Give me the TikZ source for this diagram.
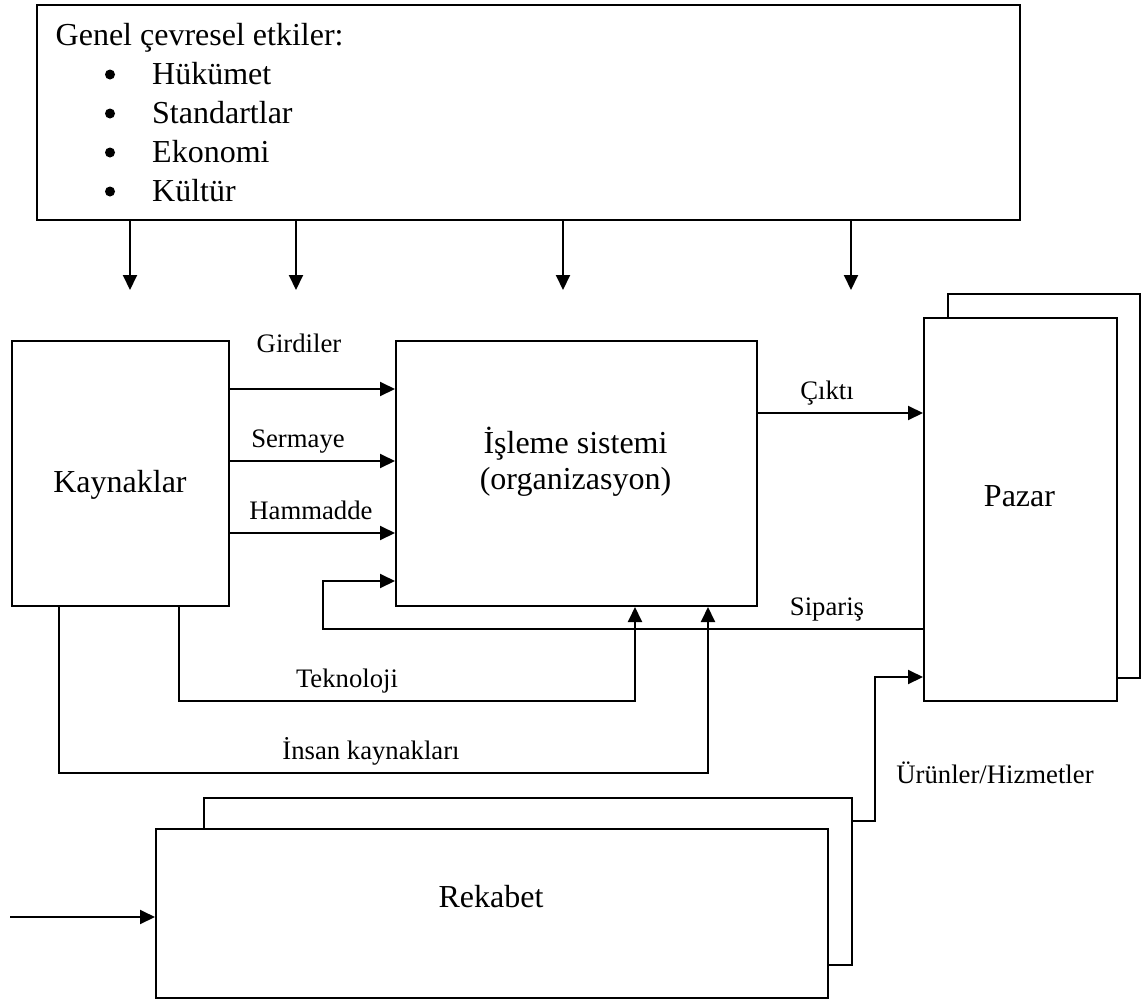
\documentclass[tikz,border=0pt]{standalone}
\usepackage{fontspec}
\setmainfont{Liberation Serif}
\usetikzlibrary{arrows.meta}
\begin{document}
\begin{tikzpicture}[x=1pt,y=-1pt,
  box/.style={draw,line width=2pt,inner sep=0pt,anchor=north west},
  frontbox/.style={box,fill=white},
  big/.style={font=\fontsize{32}{38}\selectfont,inner sep=0pt,anchor=base},
  small/.style={font=\fontsize{26.7}{32}\selectfont,inner sep=0pt,anchor=base},
  dot/.style={circle,fill,inner sep=0pt,minimum size=10pt},
  link/.style={line width=2pt},
  arr/.style={link,-{Triangle[length=15pt,width=14pt]}}]
\useasboundingbox (0,0) rectangle (1141,1001);

% boxes
\node[box,minimum width=983,minimum height=215] (env) at (36,4) {};
\node[box,minimum width=217,minimum height=265] (kay) at (11,340) {};
\node[box,minimum width=361,minimum height=265] (isl) at (395,340) {};
\node[box,minimum width=192,minimum height=384] (pazB) at (947,293) {};
\node[frontbox,minimum width=193,minimum height=383] (pazF) at (923,317) {};
\node[box,minimum width=648,minimum height=167] (rekB) at (203,797) {};
\node[frontbox,minimum width=672,minimum height=169] (rekF) at (155,828) {};

% environment text with bullet list
\node[big,anchor=base west] (gen) at (55.5,45) {Genel çevresel etkiler:};
\foreach \y/\t/\n in {84/Hükümet/h,123/Standartlar/s,162/Ekonomi/e,201/Kültür/k}{
  \node[dot] (b\n) at (110,\y-9.5) {};
  \node[big,anchor=base west] (i\n) at (152,\y) {\t};
}

% box titles
\node[big] (tkay) at (120,492) {Kaynaklar};
\node[big] (tisl1) at (575.5,453) {İşleme sistemi};
\node[big] (tisl2) at (575.5,489) {(organizasyon)};
\node[big] (tpaz) at (1019.5,506) {Pazar};
\node[big] (trek) at (491,907) {Rekabet};

% helper coordinates
\coordinate (t1) at (130,290);
\coordinate (t2) at (296,290);
\coordinate (t3) at (563,290);
\coordinate (t4) at (851,290);
\coordinate (r1) at (0,389);
\coordinate (r2) at (0,461);
\coordinate (r3) at (0,533);
\coordinate (r4) at (0,581);
\coordinate (co) at (0,413);
\coordinate (fb) at (323,629);
\coordinate (tk) at (179,701);
\coordinate (hr) at (58.5,773);
\coordinate (u1) at (635,0);
\coordinate (u2) at (708,0);
\coordinate (ur) at (875,821);
\coordinate (p2) at (0,677);
\coordinate (rin) at (10,917);

% influences from the environment
\foreach \t in {t1,t2,t3,t4}
  \draw[arr] (env.south -| \t) -- (\t);

% inputs
\draw[arr] (kay.east |- r1) -- (isl.west |- r1);
\draw[arr] (kay.east |- r2) -- (isl.west |- r2);
\draw[arr] (kay.east |- r3) -- (isl.west |- r3);

% output and orders
\draw[arr] (isl.east |- co) -- (pazF.west |- co);
\draw[arr] (pazF.west |- fb) -- (fb) |- (isl.west |- r4);

% technology and human resources
\draw[arr] (kay.south -| tk) -- (tk) -| (isl.south -| u1);
\draw[arr] (kay.south -| hr) -- (hr) -| (isl.south -| u2);

% competition
\draw[arr] (rekB.east |- ur) -- (ur) |- (pazF.west |- p2);
\draw[arr] (rin) -- (rekF.west |- rin);

% connector labels
\node[small] (lgir) at (299,352) {Girdiler};
\node[small] (lser) at (298,447) {Sermaye};
\node[small] (lham) at (311,519) {Hammadde};
\node[small] (lcik) at (827,399) {Çıktı};
\node[small] (lsip) at (827,615) {Sipariş};
\node[small] (ltek) at (347,687) {Teknoloji};
\node[small] (lins) at (371,759) {İnsan kaynakları};
\node[small] (lurn) at (995,783) {Ürünler/Hizmetler};
\end{tikzpicture}
\end{document}
